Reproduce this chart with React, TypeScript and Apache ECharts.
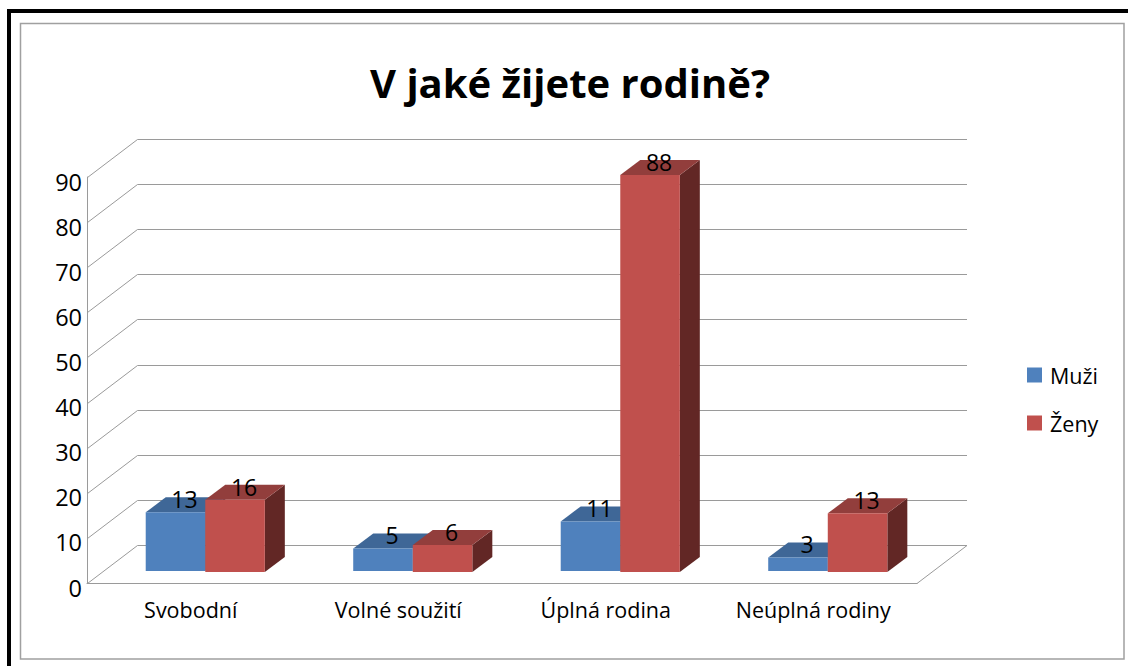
import React, { useEffect, useRef } from "react";
import * as echarts from "echarts";

const titleText = "V jaké žijete rodině?";
const categories = ["Svobodní", "Volné soužití", "Úplná rodina", "Neúplná rodiny"];
const muzi = [13, 5, 11, 3];
const zeny = [16, 6, 88, 13];
const yTicks = [0, 10, 20, 30, 40, 50, 60, 70, 80, 90];

const FONT = "'Open Sans', 'Noto Sans', sans-serif";
const GRID_COLOR = "#9a9a9a";
const DEPTH_X = 50;
const DEPTH_Y = 38;

const palette = {
  Muzi: { front: "#4F81BD", top: "#3F6797", side: "#2F4D71" },
  Zeny: { front: "#C0504D", top: "#923E3C", side: "#622725" },
};

function barRenderer(colors: { front: string; top: string; side: string }, side: -1 | 1, lift: number) {
  return (params: any, api: any) => {
    const idx = api.value(0);
    const v = api.value(1);
    const band = api.size([1, 0])[0];
    const base = api.coord([idx, 0]);
    const top = api.coord([idx, v]);
    const w = band * 0.287;
    const cx = base[0] + band * 0.07;
    const x0 = side < 0 ? cx - w : cx;
    const x1 = x0 + w;
    const yb = base[1] - lift;
    const yt = top[1] - lift;
    const dx = 20;
    const dy = 15;
    return {
      type: "group",
      children: [
        { type: "polygon", shape: { points: [[x1, yt], [x1 + dx, yt - dy], [x1 + dx, yb - dy], [x1, yb]] }, style: { fill: colors.side } },
        { type: "polygon", shape: { points: [[x0, yt], [x0 + dx, yt - dy], [x1 + dx, yt - dy], [x1, yt]] }, style: { fill: colors.top } },
        { type: "rect", shape: { x: x0, y: yt, width: w, height: yb - yt }, style: { fill: colors.front } },
        {
          type: "text",
          z2: 50,
          style: {
            text: String(v),
            x: (x0 + x1) / 2 + 9,
            y: yt - 13,
            align: "center",
            verticalAlign: "middle",
            font: `23px ${FONT}`,
            fill: "#000",
          },
        },
      ],
    };
  };
}

export default function App() {
  const ref = useRef<HTMLDivElement>(null);
  useEffect(() => {
    const chart = echarts.init(ref.current!, undefined, { renderer: "svg" });
    chart.setOption({
      animation: false,
      backgroundColor: "#fff",
      title: {
        text: titleText,
        left: 565,
        top: 57,
        textAlign: "center",
        textStyle: { fontFamily: FONT, fontSize: 40, fontWeight: "bold", color: "#000" },
      },
      grid: { left: 87, top: 177, width: 830, height: 406, containLabel: false },
      legend: {
        show: true,
        orient: "vertical",
        left: 1022,
        top: 359,
        itemWidth: 15,
        itemHeight: 15,
        itemGap: 26,
        icon: "rect",
        data: ["Muži", "Ženy"],
        textStyle: { fontFamily: FONT, fontSize: 21.5, color: "#000", padding: [0, 0, 0, 3] },
      },
      xAxis: {
        type: "category",
        data: categories,
        axisTick: { show: false },
        axisLine: { show: true, lineStyle: { color: GRID_COLOR, width: 1 } },
        axisLabel: { fontFamily: FONT, fontSize: 21.5, color: "#000", margin: 15 },
      },
      yAxis: {
        type: "value",
        min: 0,
        max: 90,
        interval: 10,
        axisTick: { show: false },
        splitLine: { show: false },
        axisLine: { show: true, lineStyle: { color: GRID_COLOR, width: 1 } },
        axisLabel: { fontFamily: FONT, fontSize: 23.5, color: "#000", margin: 5, verticalAlign: "top", lineHeight: 9 },
      },
      graphic: [
        { type: "rect", silent: true, shape: { x: 7, y: 9, width: 4, height: 657 }, style: { fill: "#000" } },
        { type: "rect", silent: true, shape: { x: 7, y: 9, width: 1121, height: 4 }, style: { fill: "#000" } },
        {
          type: "rect",
          silent: true,
          shape: { x: 20.5, y: 23.5, width: 1103.5, height: 635.5 },
          style: { fill: "none", stroke: "#a0a0a0", lineWidth: 1.5 },
        },
      ],
      series: [
        {
          type: "custom",
          name: "grid",
          silent: true,
          z: 1,
          data: yTicks.map((t) => [0, t]),
          renderItem: (params: any, api: any) => {
            const v = api.value(1);
            const y = Math.round(api.coord([0, v])[1]) + 0.5;
            const left = params.coordSys.x + 0.5;
            const right = params.coordSys.x + params.coordSys.width;
            const children: any[] = [
              {
                type: "polyline",
                shape: { points: [[left, y], [left + DEPTH_X, y - DEPTH_Y], [right + DEPTH_X, y - DEPTH_Y]] },
                style: { stroke: GRID_COLOR, lineWidth: 1, fill: "none" },
              },
            ];
            if (v === 0) {
              children.push({
                type: "line",
                shape: { x1: right, y1: y, x2: right + DEPTH_X, y2: y - DEPTH_Y },
                style: { stroke: GRID_COLOR, lineWidth: 1 },
              });
            }
            return { type: "group", children };
          },
        },
        {
          type: "custom",
          name: "Muži",
          z: 3,
          itemStyle: { color: palette.Muzi.front },
          data: muzi.map((v, i) => [i, v]),
          renderItem: barRenderer(palette.Muzi, -1, 12),
        },
        {
          type: "custom",
          name: "Ženy",
          z: 4,
          itemStyle: { color: palette.Zeny.front },
          data: zeny.map((v, i) => [i, v]),
          renderItem: barRenderer(palette.Zeny, 1, 11),
        },
      ],
    });
    return () => chart.dispose();
  }, []);
  return <div ref={ref} style={{ position: "fixed", left: 0, top: 0, width: 1128, height: 666 }} />;
}
